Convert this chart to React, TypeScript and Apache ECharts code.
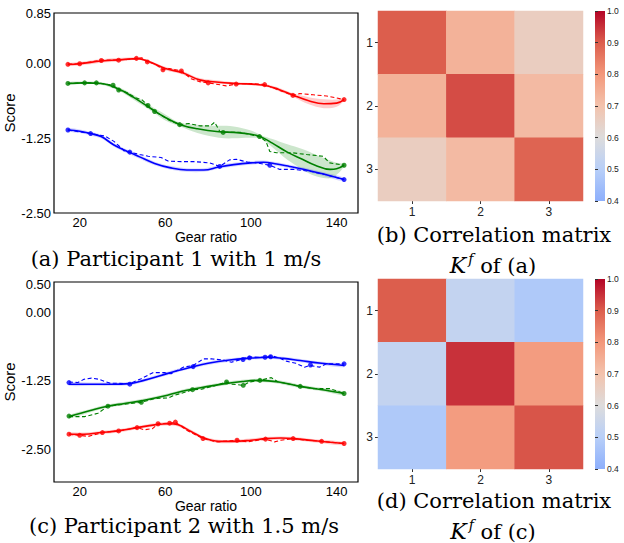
import React, { useEffect, useRef } from 'react';
import * as echarts from 'echarts';

// ---------- ticks ----------
const gearTicks = [20, 60, 100, 140];
const scoreTicksA = [0.85, 0, -1.25, -2.5];
const scoreTicksC = [0.5, 0, -1.25, -2.5];
const cbTicks = [0.4, 0.5, 0.6, 0.7, 0.8, 0.9, 1.0];
const matrixCats = ['1', '2', '3'];

// ---------- panel (a) ----------
const aRedMean = [[14.5, -0.01], [20, 0.0], [30, 0.045], [40, 0.07], [47, 0.085], [52, 0.04], [60, -0.08], [68, -0.15], [76, -0.27], [85, -0.31], [93, -0.33], [106, -0.36], [113, -0.43], [120, -0.53], [127, -0.62], [134, -0.67], [140, -0.66], [143.5, -0.6]];
const aRedBand = [0.02, 0.03, 0.03, 0.03, 0.02, 0.02, 0.03, 0.03, 0.03, 0.03, 0.02, 0.02, 0.03, 0.03, 0.06, 0.075, 0.06, 0.02];
const aRedRaw = [[14.5, -0.01], [20, 0.0], [25, 0.03], [30, 0.06], [35, 0.06], [38, 0.06], [42, 0.07], [46.5, 0.09], [49, 0.1], [51.6, 0.03], [55, 0.0], [58.9, -0.1], [62, -0.08], [67.5, -0.12], [72, -0.25], [76, -0.3], [80, -0.32], [88.5, -0.37], [93, -0.34], [100, -0.33], [106.4, -0.35], [113, -0.44], [119.6, -0.53], [122.8, -0.5], [129, -0.52], [135.3, -0.54], [143.5, -0.6]];
const aRedDots = [[14.5, -0.01], [20, 0.0], [30.1, 0.055], [38.2, 0.06], [46.5, 0.09], [51.6, 0.03], [58.9, -0.1], [67.5, -0.12], [80, -0.32], [93.1, -0.34], [106.4, -0.35], [119.6, -0.53], [143.5, -0.6]];

const aGreenMean = [[14.5, -0.33], [22, -0.32], [30, -0.33], [38, -0.42], [45, -0.56], [52, -0.72], [60, -0.9], [67, -1.02], [75, -1.09], [85, -1.14], [92, -1.15], [100, -1.18], [105, -1.23], [110, -1.33], [117, -1.48], [124, -1.6], [130, -1.7], [137, -1.77], [140, -1.76], [143.5, -1.7]];
const aGreenBand = [0.02, 0.02, 0.02, 0.03, 0.04, 0.04, 0.05, 0.03, 0.07, 0.1, 0.1, 0.06, 0.03, 0.07, 0.13, 0.17, 0.18, 0.15, 0.1, 0.02];
const aGreenRaw = [[14.5, -0.33], [22.3, -0.32], [27.8, -0.32], [35.6, -0.36], [38.2, -0.44], [42, -0.48], [46, -0.57], [49, -0.6], [51.9, -0.7], [55, -0.8], [58, -0.86], [62, -0.95], [66.7, -1.02], [71, -1.0], [76, -1.04], [81, -1.04], [83, -0.98], [85.4, -1.13], [88, -1.15], [95, -1.15], [100, -1.19], [104, -1.22], [107, -1.3], [108.8, -1.47], [111.9, -1.49], [118.9, -1.49], [126, -1.52], [133.7, -1.55], [136.8, -1.66], [143.5, -1.7]];
const aGreenDots = [[14.5, -0.33], [22.3, -0.32], [27.8, -0.32], [35.6, -0.36], [38.2, -0.44], [51.9, -0.7], [55, -0.8], [66.7, -1.02], [87, -1.15], [104, -1.22], [143.5, -1.7]];

const aBlueMean = [[14.5, -1.11], [20, -1.13], [25, -1.17], [30, -1.22], [36, -1.36], [43, -1.48], [48, -1.56], [55, -1.67], [62, -1.74], [70, -1.78], [78, -1.78], [85, -1.73], [92, -1.69], [100, -1.66], [106, -1.65], [112, -1.68], [118, -1.72], [125, -1.77], [133, -1.84], [143.5, -1.94]];
const aBlueBand = [0.03, 0.03, 0.03, 0.03, 0.03, 0.03, 0.03, 0.03, 0.03, 0.03, 0.03, 0.03, 0.03, 0.03, 0.03, 0.03, 0.03, 0.03, 0.03, 0.03];
const aBlueRaw = [[14.5, -1.11], [20, -1.14], [25.1, -1.17], [31.7, -1.21], [36, -1.3], [39.4, -1.41], [41, -1.47], [43.4, -1.48], [48, -1.52], [52, -1.55], [58, -1.57], [61.3, -1.63], [67.5, -1.64], [73.7, -1.64], [80.7, -1.66], [85.4, -1.72], [90, -1.61], [93.2, -1.6], [98.6, -1.65], [102.5, -1.66], [108.8, -1.7], [113.5, -1.77], [119.7, -1.77], [127.4, -1.8], [135.2, -1.86], [143.5, -1.94]];
const aBlueDots = [[14.5, -1.11], [25.1, -1.17], [43.4, -1.48], [85.4, -1.72], [108.8, -1.7], [143.5, -1.94]];

// ---------- panel (c) ----------
const cBlueMean = [[15, -1.31], [25, -1.31], [35, -1.31], [43, -1.3], [50, -1.24], [58, -1.15], [65, -1.07], [72, -1.0], [80, -0.93], [90, -0.87], [98, -0.84], [108, -0.82], [115, -0.84], [123, -0.88], [133, -0.93], [143.5, -0.97]];
const cBlueBand = [0.03, 0.03, 0.03, 0.03, 0.03, 0.03, 0.03, 0.03, 0.03, 0.03, 0.03, 0.03, 0.03, 0.03, 0.03, 0.03];
const cBlueRaw = [[15, -1.27], [19.2, -1.28], [22, -1.22], [25.5, -1.2], [29, -1.22], [31.7, -1.26], [34, -1.29], [43.4, -1.3], [48.7, -1.21], [54.2, -1.1], [59.6, -1.1], [62.8, -1.12], [68.4, -1.0], [73, -0.97], [77.7, -0.85], [82, -0.85], [87, -0.87], [90.9, -0.91], [96.3, -0.85], [98.6, -0.81], [103, -0.82], [107.2, -0.82], [109.5, -0.79], [113, -0.83], [116.5, -0.89], [121, -0.93], [125, -1.0], [127.4, -0.97], [132, -1.0], [135.2, -0.94], [143.5, -0.94]];
const cBlueDots = [[15, -1.28], [43.4, -1.31], [73, -0.99], [96.3, -0.86], [99.3, -0.83], [106.6, -0.82], [109.2, -0.81], [127.8, -0.96], [143.5, -0.94]];

const cGreenMean = [[15, -1.9], [25, -1.79], [33, -1.71], [41, -1.66], [49, -1.61], [61, -1.51], [70, -1.42], [80, -1.35], [88, -1.3], [96, -1.26], [104, -1.24], [113, -1.27], [123, -1.35], [135, -1.42], [143.5, -1.48]];
const cGreenBand = [0.03, 0.03, 0.03, 0.03, 0.03, 0.03, 0.03, 0.03, 0.03, 0.03, 0.03, 0.03, 0.03, 0.03, 0.03];
const cGreenRaw = [[15, -1.9], [22.3, -1.9], [28.5, -1.84], [33.2, -1.71], [40, -1.68], [48.8, -1.64], [55, -1.57], [61.3, -1.56], [64.4, -1.51], [70.6, -1.44], [72.7, -1.41], [77, -1.4], [84, -1.33], [88.6, -1.27], [91, -1.31], [96.4, -1.33], [99.4, -1.27], [104.2, -1.24], [109.5, -1.19], [112.7, -1.27], [118, -1.31], [123, -1.35], [129, -1.39], [136.8, -1.39], [143.5, -1.48]];
const cGreenDots = [[15, -1.89], [33.2, -1.71], [48.8, -1.64], [72.7, -1.41], [88.6, -1.27], [96.4, -1.33], [104.2, -1.24], [123, -1.35], [143.5, -1.48]];

const cRedMean = [[15, -2.22], [22, -2.22], [30, -2.19], [38, -2.16], [47, -2.1], [55, -2.05], [62, -2.03], [66, -2.05], [72, -2.17], [78, -2.29], [85, -2.35], [92, -2.35], [100, -2.33], [107, -2.3], [114, -2.29], [120, -2.3], [130, -2.34], [143.5, -2.39]];
const cRedBand = [0.03, 0.03, 0.03, 0.03, 0.03, 0.03, 0.03, 0.03, 0.03, 0.03, 0.03, 0.03, 0.03, 0.03, 0.03, 0.03, 0.03, 0.03];
const cRedRaw = [[15, -2.22], [20, -2.24], [24, -2.26], [30.6, -2.19], [38.2, -2.16], [46.8, -2.1], [50, -2.14], [54, -2.12], [56.6, -2.03], [62, -2.02], [64.7, -2.0], [70, -2.15], [77.6, -2.3], [84, -2.36], [93.5, -2.33], [98, -2.36], [106.8, -2.31], [111, -2.36], [114, -2.33], [119.7, -2.3], [126, -2.33], [133, -2.35], [143.5, -2.39]];
const cRedDots = [[15, -2.22], [20, -2.24], [30.6, -2.19], [38.2, -2.16], [46.8, -2.1], [56.6, -2.03], [62, -2.02], [64.7, -2.0], [77.6, -2.3], [93.5, -2.33], [106.8, -2.31], [119.7, -2.3], [133, -2.35], [143.5, -2.39]];

// ---------- correlation matrices ----------
const matrixB = [
  [0.9, 0.74, 0.66],
  [0.74, 0.92, 0.72],
  [0.66, 0.72, 0.89],
];
const matrixD = [
  [0.9, 0.53, 0.48],
  [0.53, 0.95, 0.79],
  [0.48, 0.79, 0.91],
];
const cmapColors = ['#8daffc', '#b8cff8', '#dddcdc', '#f3c3ad', '#f3987b', '#dc5e4d', '#b40426'];

const SANS = '"Liberation Sans", Arial, sans-serif';
const SERIF = '"DejaVu Serif", serif';
const CAP = 21;

function lineGroup(gi: number, color: string, band: string, mean: number[][], bw: number[], raw: number[][], dots: number[][]) {
  const S = 0.4;
  return [
    {
      type: 'custom', xAxisIndex: gi, yAxisIndex: gi, silent: true, clip: true,
      data: mean.map((p, i) => [p[0], p[1], bw[i]]),
      encode: { x: 0, y: 1 },
      renderItem: (params: any, api: any) => {
        if (params.dataIndex !== 0) return null;
        const up = mean.map((p, i) => api.coord([p[0], p[1] + bw[i]]));
        const lo = mean.map((p, i) => api.coord([p[0], p[1] - bw[i]])).reverse();
        return { type: 'polygon', shape: { points: up.concat(lo), smooth: 0.35 }, style: { fill: band } };
      },
    },
    { xAxisIndex: gi, yAxisIndex: gi, type: 'line', symbol: 'none', silent: true, smooth: S, data: mean, lineStyle: { color, width: 1.6 } },
    { xAxisIndex: gi, yAxisIndex: gi, type: 'line', symbol: 'none', silent: true, data: raw, lineStyle: { color, width: 1.1, type: [4, 2.5] } },
    { xAxisIndex: gi, yAxisIndex: gi, type: 'scatter', silent: true, symbolSize: 5, data: dots, itemStyle: { color } },
  ];
}

function lineAxes(gi: number, yMin: number, yMax: number, yTicks: number[]) {
  const x = {
    type: 'value', gridIndex: gi, min: 8, max: 150,
    axisLine: { show: false }, axisTick: { show: false }, splitLine: { show: false },
    axisLabel: { customValues: gearTicks, color: '#000', fontSize: 13, fontFamily: SANS, margin: 3 },
    name: 'Gear ratio', nameLocation: 'middle', nameGap: 12,
    nameTextStyle: { color: '#000', fontSize: 14, fontFamily: SANS, verticalAlign: 'top' },
  };
  const y = {
    type: 'value', gridIndex: gi, min: yMin, max: yMax,
    axisLine: { show: false }, axisTick: { show: false }, splitLine: { show: false },
    axisLabel: { customValues: yTicks, color: '#000', fontSize: 13, fontFamily: SANS, margin: 3, formatter: (v: number) => v.toFixed(2) },
    name: 'Score', nameLocation: 'middle', nameGap: 27, nameRotate: 90,
    nameTextStyle: { color: '#000', fontSize: 15, fontFamily: SANS },
  };
  return { x, y };
}

function heatAxes(gi: number) {
  const common = {
    type: 'category', gridIndex: gi, data: matrixCats,
    axisLine: { show: false }, splitLine: { show: false },
    axisTick: { show: true, length: 3, alignWithLabel: true, lineStyle: { color: '#333' } },
    axisLabel: { color: '#222', fontSize: 12, fontFamily: SANS, margin: 5 },
  };
  return { x: { ...common }, y: { ...common, inverse: true } };
}

function cbAxes(gi: number) {
  return {
    x: { type: 'value', gridIndex: gi, show: false, min: 0, max: 1 },
    y: {
      type: 'value', gridIndex: gi, min: 0.4, max: 1.0, position: 'right',
      axisLine: { show: false }, splitLine: { show: false },
      axisTick: { show: true, length: 3, customValues: cbTicks, lineStyle: { color: '#333' } },
      axisLabel: { customValues: cbTicks, color: '#222', fontSize: 8.5, fontFamily: SANS, margin: 2, formatter: (v: number) => v.toFixed(1) },
    },
  };
}

function matrixData(m: number[][]) {
  const out: number[][] = [];
  m.forEach((row, r) => row.forEach((v, c) => out.push([c, r, v])));
  return out;
}

export default function App() {
  const ref = useRef<HTMLDivElement>(null);
  useEffect(() => {
    if (!ref.current) return;
    const chart = echarts.init(ref.current, null, { renderer: 'svg' });
    const axA = lineAxes(0, -2.5, 0.85, scoreTicksA);
    const axC = lineAxes(1, -3.09, 0.55, scoreTicksC);
    const axB = heatAxes(2);
    const axD = heatAxes(3);
    const cb1 = cbAxes(4);
    const cb2 = cbAxes(5);

    const series: any[] = [
      ...lineGroup(0, '#ff0000', 'rgba(255,0,0,0.2)', aRedMean, aRedBand, aRedRaw, aRedDots),
      ...lineGroup(0, '#008000', 'rgba(0,128,0,0.2)', aGreenMean, aGreenBand, aGreenRaw, aGreenDots),
      ...lineGroup(0, '#0000ff', 'rgba(0,0,255,0.17)', aBlueMean, aBlueBand, aBlueRaw, aBlueDots),
      ...lineGroup(1, '#0000ff', 'rgba(0,0,255,0.17)', cBlueMean, cBlueBand, cBlueRaw, cBlueDots),
      ...lineGroup(1, '#008000', 'rgba(0,128,0,0.2)', cGreenMean, cGreenBand, cGreenRaw, cGreenDots),
      ...lineGroup(1, '#ff0000', 'rgba(255,0,0,0.2)', cRedMean, cRedBand, cRedRaw, cRedDots),
    ];
    const heatStart = series.length;
    series.push({ type: 'heatmap', xAxisIndex: 2, yAxisIndex: 2, data: matrixData(matrixB), silent: true });
    series.push({ type: 'heatmap', xAxisIndex: 3, yAxisIndex: 3, data: matrixData(matrixD), silent: true });
    series.push({ type: 'scatter', xAxisIndex: 4, yAxisIndex: 4, symbolSize: 0, data: [[0.5, 0.4], [0.5, 1.0]], silent: true });
    series.push({ type: 'scatter', xAxisIndex: 5, yAxisIndex: 5, symbolSize: 0, data: [[0.5, 0.4], [0.5, 1.0]], silent: true });

    const gradStops = cmapColors.slice().reverse().map((c, i, arr) => ({ offset: i / (arr.length - 1), color: c }));
    const cbRect = (y: number) => ({
      type: 'rect', shape: { x: 595, y, width: 10, height: 190 }, silent: true,
      style: { fill: new echarts.graphic.LinearGradient(0, 0, 0, 1, gradStops) }, z: 0,
    });
    const caption = (text: string, x: number, y: number) => ({
      type: 'text', x, y, silent: true,
      style: { text, textAlign: 'center', textVerticalAlign: 'middle', font: `${CAP}px ${SERIF}`, fill: '#000' },
    });
    const kCaption = (tail: string, x: number, y: number) => ({
      type: 'text', x, y, silent: true,
      style: {
        text: `{k|K}{s|f}{n| ${tail}}`, textAlign: 'center', textVerticalAlign: 'middle', fill: '#000',
        rich: {
          k: { fontFamily: SERIF, fontSize: CAP + 1, fontStyle: 'italic', lineHeight: 24, verticalAlign: 'bottom' },
          s: { fontFamily: SERIF, fontSize: 14, fontStyle: 'italic', lineHeight: 24, verticalAlign: 'top', padding: [0, 0, 0, 2] },
          n: { fontFamily: SERIF, fontSize: CAP, lineHeight: 24, verticalAlign: 'bottom' },
        },
      },
    });

    chart.setOption({
      animation: false,
      backgroundColor: '#fff',
      grid: [
        { left: 54, top: 13, width: 304, height: 200, show: true, borderColor: '#000', borderWidth: 1.2, backgroundColor: 'transparent' },
        { left: 54, top: 282, width: 304, height: 200, show: true, borderColor: '#000', borderWidth: 1.2, backgroundColor: 'transparent' },
        { left: 378, top: 11, width: 205, height: 190 },
        { left: 378, top: 279, width: 205, height: 190 },
        { left: 595, top: 11, width: 10, height: 190 },
        { left: 595, top: 279, width: 10, height: 190 },
      ],
      xAxis: [axA.x, axC.x, axB.x, axD.x, cb1.x, cb2.x],
      yAxis: [axA.y, axC.y, axB.y, axD.y, cb1.y, cb2.y],
      visualMap: {
        type: 'continuous', show: false, min: 0.4, max: 1.0,
        seriesIndex: [heatStart, heatStart + 1],
        inRange: { color: cmapColors },
      },
      graphic: [
        cbRect(11),
        cbRect(279),
        caption('(a) Participant 1 with 1 m/s', 176, 259),
        caption('(b) Correlation matrix', 494, 235),
        kCaption('of (a)', 493, 264),
        caption('(c) Participant 2 with 1.5 m/s', 184, 526),
        caption('(d) Correlation matrix', 494, 501),
        kCaption('of (c)', 493, 530),
      ],
      series,
    });
    return () => chart.dispose();
  }, []);
  return <div ref={ref} style={{ position: 'absolute', left: 0, top: 0, width: 624, height: 543 }} />;
}
